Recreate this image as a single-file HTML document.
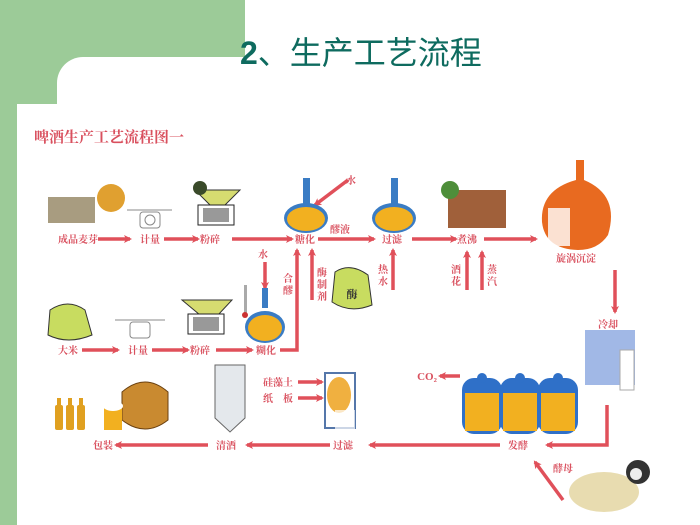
<!DOCTYPE html>
<html><head><meta charset="utf-8"><style>
html,body{margin:0;padding:0;width:700px;height:525px;overflow:hidden;background:#fff;position:relative;font-family:"Liberation Serif","Noto Serif CJK SC",serif}
.g1{position:absolute;left:0;top:0;width:245px;height:104px;background:#9CCB98}
.g2{position:absolute;left:0;top:0;width:17px;height:525px;background:#9CCB98}
.w1{position:absolute;left:57px;top:57px;width:700px;height:200px;background:#fff;border-top-left-radius:26px}
.w2{position:absolute;left:17px;top:104px;width:700px;height:430px;background:#fff}
.title{position:absolute;left:240px;top:28px;font-family:"Liberation Sans","Noto Sans CJK SC",sans-serif;font-size:32px;color:#0E6B5F;white-space:nowrap}
.title b{font-weight:bold}
svg{position:absolute;left:0;top:0}
</style></head><body>
<div class="g1"></div><div class="g2"></div><div class="w1"></div><div class="w2"></div>
<div class="title"><b>2</b>、生产工艺流程</div>
<svg width="700" height="525" viewBox="0 0 700 525">
<defs><marker id="a" markerWidth="8" markerHeight="8" refX="6" refY="4" orient="auto" markerUnits="userSpaceOnUse"><path d="M0,0 L8,4 L0,8 L2,4Z" fill="#E0505A"/></marker></defs>
<text x="34" y="142" font-size="15" font-weight="bold" fill="#D9505E">啤酒生产工艺流程图一</text>
<g stroke="#E0505A" stroke-width="3.5" fill="none" marker-end="url(#a)">
<line x1="98" y1="239" x2="130" y2="239"/><line x1="164" y1="239" x2="198" y2="239"/>
<line x1="232" y1="239" x2="292" y2="239"/><line x1="318" y1="239" x2="374" y2="239"/>
<line x1="412" y1="239" x2="456" y2="239"/><line x1="484" y1="239" x2="536" y2="239"/>
<line x1="82" y1="350" x2="118" y2="350"/><line x1="152" y1="350" x2="188" y2="350"/>
<line x1="216" y1="350" x2="252" y2="350"/>
<polyline points="280,350 297,350 297,250"/>
<line x1="312" y1="300" x2="312" y2="250"/><line x1="393" y1="290" x2="393" y2="250"/>
<line x1="467" y1="290" x2="467" y2="252"/><line x1="482" y1="290" x2="482" y2="252"/>
<line x1="265" y1="262" x2="265" y2="288"/><line x1="348" y1="180" x2="315" y2="205"/>
<line x1="615" y1="270" x2="615" y2="312"/>
<polyline points="607,405 607,445 547,445"/>
<line x1="500" y1="445" x2="370" y2="445"/><line x1="330" y1="445" x2="247" y2="445"/>
<line x1="208" y1="445" x2="116" y2="445"/>
<line x1="460" y1="376" x2="440" y2="376"/>
<line x1="298" y1="382" x2="322" y2="382"/><line x1="298" y1="398" x2="322" y2="398"/>
<line x1="563" y1="500" x2="535" y2="462"/>
</g>
<g font-size="10" font-weight="bold" fill="#D9505E" text-anchor="middle">
<text x="78" y="243">成品麦芽</text><text x="150" y="243">计量</text><text x="210" y="243">粉碎</text>
<text x="305" y="243">糖化</text><text x="340" y="233">醪液</text><text x="392" y="243">过滤</text>
<text x="467" y="243">煮沸</text><text x="576" y="262">旋涡沉淀</text>
<text x="68" y="354">大米</text><text x="138" y="354">计量</text><text x="200" y="354">粉碎</text><text x="266" y="354">糊化</text>
<text x="263" y="258">水</text><text x="351" y="184">水</text>
<text x="288" y="282">合</text><text x="288" y="294">醪</text>
<text x="322" y="276">酶</text><text x="322" y="288">制</text><text x="322" y="300">剂</text>
<text x="383" y="273">热</text><text x="383" y="285">水</text>
<text x="456" y="273">酒</text><text x="456" y="285">花</text>
<text x="492" y="273">蒸</text><text x="492" y="285">汽</text>
<text x="608" y="328">冷却</text>
<text x="518" y="449">发酵</text><text x="343" y="449">过滤</text><text x="226" y="449">清酒</text><text x="103" y="449">包装</text>
<text x="563" y="472">酵母</text><text x="278" y="386">硅藻土</text><text x="278" y="402">纸　板</text>
<text x="427" y="380" font-size="11">CO₂</text>
</g>
<rect x="48" y="197" width="47" height="26" fill="#A89C80"/><circle cx="111" cy="198" r="14" fill="#E0A030"/>
<g stroke="#888" fill="none"><line x1="127" y1="210" x2="172" y2="210"/><rect x="140" y="212" width="20" height="16" rx="3"/><circle cx="150" cy="220" r="5"/></g>
<path d="M195,190 L240,190 L225,205 L210,205Z" fill="#D6DC70" stroke="#333"/><circle cx="200" cy="188" r="7" fill="#3a4a2a"/><rect x="198" y="205" width="36" height="20" fill="#fff" stroke="#222"/><rect x="203" y="208" width="26" height="14" fill="#555" opacity=".6"/>
<g><rect x="303" y="178" width="7" height="26" fill="#3A7CC4"/><ellipse cx="306" cy="218" rx="22" ry="15" fill="#3A7CC4"/><ellipse cx="306" cy="219" rx="19" ry="12" fill="#F2B020"/></g>
<g><rect x="391" y="178" width="7" height="26" fill="#3A7CC4"/><ellipse cx="394" cy="218" rx="22" ry="15" fill="#3A7CC4"/><ellipse cx="394" cy="219" rx="19" ry="12" fill="#F2B020"/></g>
<rect x="448" y="190" width="58" height="38" fill="#A0603A"/><circle cx="450" cy="190" r="9" fill="#4E8E3A"/>
<path d="M576,160 L584,160 L584,180 Q620,195 608,235 Q598,250 578,250 Q545,249 542,222 Q540,190 576,180Z" fill="#E86A20"/><rect x="548" y="208" width="22" height="38" fill="#fff" opacity=".8"/>
<path d="M335,272 Q350,262 368,275 L372,305 Q350,314 332,302Z" fill="#C8DC60" stroke="#333"/><text x="352" y="298" font-size="11" font-weight="bold" text-anchor="middle" fill="#333">酶</text>
<path d="M50,310 Q68,298 85,310 L92,335 Q68,345 48,335Z" fill="#C8DC60" stroke="#333"/>
<g stroke="#888" fill="none"><line x1="115" y1="320" x2="165" y2="320"/><rect x="130" y="322" width="20" height="16" rx="3"/></g>
<path d="M182,300 L232,300 L218,315 L200,315Z" fill="#D6DC70" stroke="#333"/><rect x="188" y="314" width="36" height="20" fill="#fff" stroke="#222"/><rect x="193" y="317" width="26" height="14" fill="#555" opacity=".6"/>
<rect x="244" y="285" width="3" height="28" fill="#aaa"/><circle cx="245" cy="315" r="3" fill="#c33"/>
<rect x="262" y="288" width="6" height="20" fill="#3A7CC4"/><ellipse cx="265" cy="327" rx="20" ry="16" fill="#3A7CC4"/><ellipse cx="265" cy="328" rx="17" ry="13" fill="#F2B020"/>
<rect x="585" y="330" width="50" height="55" fill="#8AA6E0" opacity=".8"/><rect x="620" y="350" width="14" height="40" fill="#fff" stroke="#aaa"/>
<g fill="#2F70C8"><rect x="462" y="378" width="40" height="56" rx="12"/><rect x="500" y="378" width="40" height="56" rx="12"/><rect x="538" y="378" width="40" height="56" rx="12"/>
<circle cx="482" cy="378" r="5"/><circle cx="520" cy="378" r="5"/><circle cx="558" cy="378" r="5"/></g>
<g fill="#F2B020"><rect x="465" y="393" width="34" height="38"/><rect x="503" y="393" width="34" height="38"/><rect x="541" y="393" width="34" height="38"/></g>
<rect x="325" y="373" width="30" height="55" fill="none" stroke="#5577AA" stroke-width="2"/><ellipse cx="339" cy="395" rx="12" ry="18" fill="#F0B040"/><rect x="335" y="410" width="20" height="20" fill="#fff" opacity=".7"/>
<path d="M215,365 L245,365 L245,418 L230,432 L215,418Z" fill="#E4E8EC" stroke="#666"/>
<path d="M122,392 Q145,372 168,392 L168,420 Q145,438 122,420Z" fill="#C98A30" stroke="#6a4010"/>
<rect x="104" y="408" width="18" height="22" fill="#F2B020"/><ellipse cx="113" cy="406" rx="10" ry="5" fill="#fff"/>
<g fill="#E0A020"><rect x="55" y="405" width="8" height="25" rx="2"/><rect x="66" y="405" width="8" height="25" rx="2"/><rect x="77" y="405" width="8" height="25" rx="2"/><rect x="57" y="398" width="4" height="8"/><rect x="68" y="398" width="4" height="8"/><rect x="79" y="398" width="4" height="8"/></g>
<ellipse cx="604" cy="492" rx="35" ry="20" fill="#E8DCB0"/><circle cx="638" cy="472" r="12" fill="#333"/><circle cx="636" cy="474" r="6" fill="#eee"/>
</svg>
</body></html>
